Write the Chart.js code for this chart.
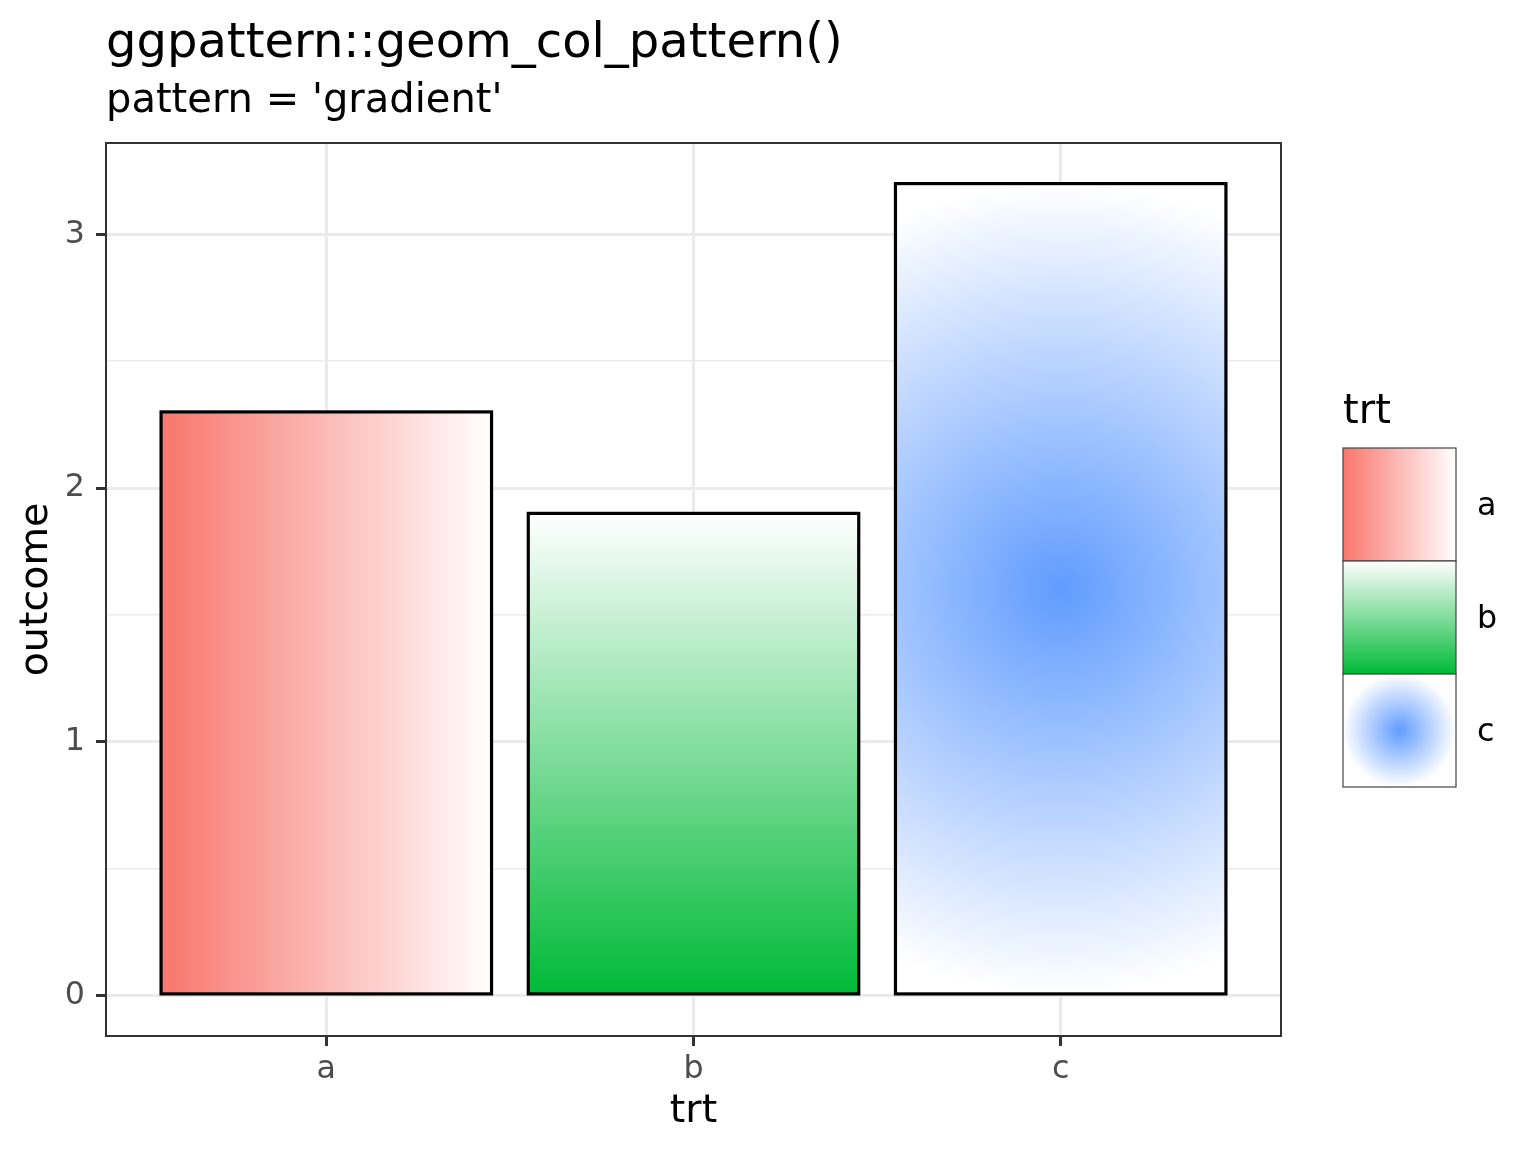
<!DOCTYPE html>
<html>
<head>
<meta charset="utf-8">
<script src="https://cdn.jsdelivr.net/npm/chart.js@4.4.1/dist/chart.umd.min.js"></script>
<style>
  html, body { margin: 0; padding: 0; background: #fff; }
  #wrap { width: 1536px; height: 1152px; }
</style>
</head>
<body>
<div id="wrap"><canvas id="chart" width="1536" height="1152"></canvas></div>
<script>
// ── Data ──
const CATEGORIES = ['a', 'b', 'c'];
const OUTCOME = [2.3, 1.9, 3.2];
const FILL_COLORS = ['#F8766D', '#00BA38', '#619CFF'];
const GRADIENT_KIND = ['horizontal', 'vertical', 'radial'];
const Y_TICKS = [0, 0.5, 1, 1.5, 2, 2.5, 3];
const Y_RANGE = [-0.16, 3.36];
const X_RANGE = [0.4, 3.6];

const FONT = '"DejaVu Sans", "Liberation Sans", sans-serif';
const TITLE = 'ggpattern::geom_col_pattern()';
const SUBTITLE = "pattern = 'gradient'";

// ── Gradient builder (same look for bars and legend keys) ──
function makeGradient(ctx, kind, color, x0, y0, w, h) {
  let g;
  if (kind === 'horizontal') {
    g = ctx.createLinearGradient(x0, 0, x0 + w, 0);
    g.addColorStop(0, color);
    g.addColorStop(1, '#FFFFFF');
  } else if (kind === 'vertical') {
    g = ctx.createLinearGradient(0, y0, 0, y0 + h);
    g.addColorStop(0, '#FFFFFF');
    g.addColorStop(1, color);
  } else {
    const cx = x0 + w / 2, cy = y0 + h / 2, r = Math.max(w, h) / 2;
    g = ctx.createRadialGradient(cx, cy, 0, cx, cy, r);
    g.addColorStop(0, color);
    g.addColorStop(1, '#FFFFFF');
  }
  return g;
}

function barRect(bar) {
  const { x, y, base, width } = bar.getProps(['x', 'y', 'base', 'width'], true);
  return { left: x - width / 2, top: Math.min(y, base), w: width, h: Math.abs(base - y) };
}

// ── Gradient fill under each bar, outline centred on its edge (ggplot style) ──
const gradientBars = {
  id: 'gradientBars',
  beforeDatasetsDraw(chart) {
    const ctx = chart.ctx;
    ctx.save();
    chart.getDatasetMeta(0).data.forEach((bar, i) => {
      const r = barRect(bar);
      ctx.fillStyle = makeGradient(ctx, GRADIENT_KIND[i], FILL_COLORS[i], r.left, r.top, r.w, r.h);
      ctx.fillRect(r.left, r.top, r.w, r.h);
    });
    ctx.restore();
  },
  afterDatasetsDraw(chart) {
    const ctx = chart.ctx;
    ctx.save();
    ctx.strokeStyle = '#000000';
    ctx.lineWidth = 3.2;
    chart.getDatasetMeta(0).data.forEach(bar => {
      const r = barRect(bar);
      ctx.strokeRect(r.left, r.top, r.w, r.h);
    });
    ctx.restore();
  }
};

// ── Panel border, titles and the gradient legend ──
const decorations = {
  id: 'decorations',
  afterDraw(chart) {
    const ctx = chart.ctx;
    const area = chart.chartArea;
    ctx.save();

    ctx.strokeStyle = '#333333';
    ctx.lineWidth = 2;
    ctx.strokeRect(area.left, area.top, area.right - area.left, area.bottom - area.top);

    ctx.fillStyle = '#000000';
    ctx.textAlign = 'left';
    ctx.textBaseline = 'alphabetic';
    ctx.font = `48px ${FONT}`;
    ctx.fillText(TITLE, area.left, 57);
    ctx.font = `40px ${FONT}`;
    ctx.fillText(SUBTITLE, area.left, 112);

    // legend
    const keyX = 1343, keyY = 448, keySize = 113;
    ctx.font = `40px ${FONT}`;
    ctx.fillText('trt', keyX, 423);

    ctx.font = `31.7px ${FONT}`;
    ctx.textBaseline = 'middle';
    CATEGORIES.forEach((cat, i) => {
      const y0 = keyY + i * keySize;
      ctx.fillStyle = '#FFFFFF';
      ctx.fillRect(keyX, y0, keySize, keySize);
      ctx.fillStyle = makeGradient(ctx, GRADIENT_KIND[i], FILL_COLORS[i], keyX, y0, keySize, keySize);
      ctx.fillRect(keyX, y0, keySize, keySize);
      ctx.strokeStyle = '#444444';
      ctx.lineWidth = 1.2;
      ctx.strokeRect(keyX, y0, keySize, keySize);
      ctx.fillStyle = '#000000';
      ctx.fillText(cat, 1477, y0 + keySize / 2 + 2);
    });

    ctx.restore();
  }
};

const isMajor = v => Number.isInteger(v);

new Chart(document.getElementById('chart'), {
  type: 'bar',
  data: {
    datasets: [{
      label: 'outcome',
      data: OUTCOME.map((v, i) => ({ x: i + 1, y: v })),
      backgroundColor: 'rgba(0,0,0,0)',
      borderWidth: 0,
      inflateAmount: 0,
      categoryPercentage: 1,
      barPercentage: 0.9
    }]
  },
  options: {
    responsive: false,
    animation: false,
    devicePixelRatio: 1,
    layout: { padding: { top: 143, right: 255, left: 0, bottom: 0 } },
    plugins: {
      legend: { display: false },
      tooltip: { enabled: false },
      title: { display: false }
    },
    scales: {
      x: {
        type: 'linear',
        offset: false,
        min: X_RANGE[0],
        max: X_RANGE[1],
        afterBuildTicks: ax => { ax.ticks = CATEGORIES.map((_, i) => ({ value: i + 1 })); },
        afterFit: ax => { ax.height = 116; },
        ticks: {
          callback: v => CATEGORIES[v - 1] ?? '',
          color: '#4D4D4D',
          font: { family: FONT, size: 31.7 },
          padding: 4.5,
          maxRotation: 0,
          autoSkip: false
        },
        grid: { offset: false, color: '#EBEBEB', lineWidth: 3, tickLength: 10, tickColor: '#333333', tickWidth: 3 },
        border: { display: false },
        title: {
          display: true, text: 'trt', color: '#000000',
          font: { family: FONT, size: 39.6 },
          padding: { top: 0, bottom: 16.6 }
        }
      },
      y: {
        min: Y_RANGE[0],
        max: Y_RANGE[1],
        afterBuildTicks: ax => { ax.ticks = Y_TICKS.map(v => ({ value: v })); },
        afterFit: ax => { ax.width = 106; },
        ticks: {
          callback: v => isMajor(v) ? String(v) : '',
          color: '#4D4D4D',
          font: { family: FONT, size: 31.7 },
          padding: 11
        },
        grid: {
          color: '#EBEBEB',
          lineWidth: c => isMajor(c.tick.value) ? 3 : 1.5,
          tickLength: 10,
          tickColor: c => isMajor(c.tick.value) ? '#333333' : 'rgba(0,0,0,0)',
          tickWidth: 3
        },
        border: { display: false },
        title: {
          display: true, text: 'outcome', color: '#000000',
          font: { family: FONT, size: 39.6 },
          padding: { top: 12.5, bottom: 0 }
        }
      }
    }
  },
  plugins: [gradientBars, decorations]
});
</script>
</body>
</html>
